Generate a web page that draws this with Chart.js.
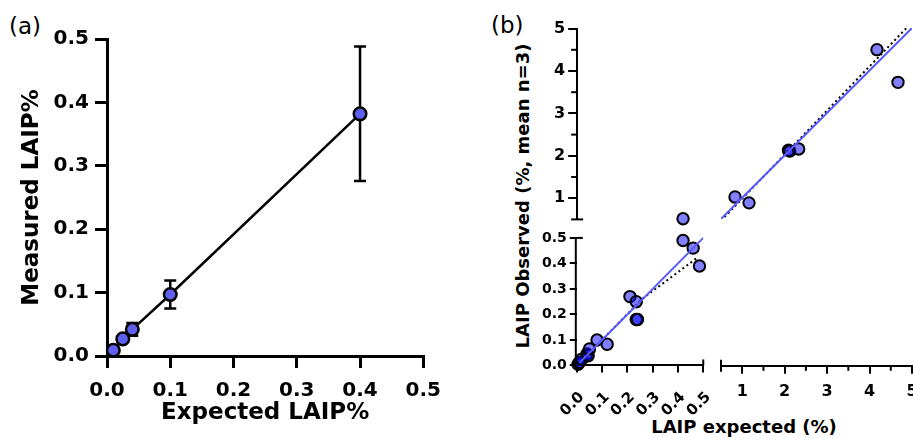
<!DOCTYPE html>
<html><head><meta charset="utf-8">
<script src="https://cdn.jsdelivr.net/npm/chart.js@4.4.1/dist/chart.umd.min.js"></script>
<style>
html,body{margin:0;padding:0;background:#fff;width:913px;height:438px;overflow:hidden;position:relative;font-family:"DejaVu Sans";}
canvas{position:absolute;}
.lbl{position:absolute;white-space:nowrap;color:#000;line-height:1;}
</style></head><body>
<div class="lbl" style="left:9px;top:15px;font-size:23px;line-height:23px;">(a)</div>
<div class="lbl" style="left:491px;top:14px;font-size:23px;line-height:23px;">(b)</div>
<div class="lbl" style="left:744px;top:418px;font-size:18px;line-height:18px;font-weight:bold;transform:translateX(-50%);">LAIP expected (%)</div>
<div class="lbl" style="left:523px;top:196px;font-size:18px;line-height:18px;font-weight:bold;transform:translate(-50%,-50%) rotate(-90deg);">LAIP Observed (%, mean n=3)</div>
<script>
// ---------- Panel (a) data ----------
const aExpected = [0.01, 0.025, 0.04, 0.1, 0.4];
const aMeasured = [0.009, 0.027, 0.042, 0.097, 0.382];
const aSD       = [0.002, 0.004, 0.010, 0.022, 0.106];
const aTicks    = [0, 0.1, 0.2, 0.3, 0.4, 0.5];

// ---------- Panel (b) data ----------
const bLowExpected = [0.005, 0.01, 0.02, 0.04, 0.045, 0.05, 0.08, 0.12, 0.21, 0.235, 0.235, 0.24, 0.42, 0.42, 0.46, 0.485];
const bLowObserved = [0.005, 0.012, 0.025, 0.045, 0.038, 0.065, 0.10, 0.083, 0.27, 0.25, 0.18, 0.18, 0.575, 0.49, 0.46, 0.39];
const bHighExpected = [0.83, 1.16, 2.09, 2.12, 2.33, 4.175, 4.67];
const bHighObserved = [1.02, 0.88, 2.12, 2.10, 2.15, 4.49, 3.72];
const bFitLowX  = [0.01, 0.5];
const bFitLowY  = [0.01, 0.5];
const bFitHighX = [0.5, 5];
const bFitHighY = [0.5, 5];
const bDotLowX  = [0.01, 0.26, 0.48];
const bDotLowY  = [0.01, 0.262, 0.425];
const bDotHighX = [0.5, 4.87];
const bDotHighY = [0.46, 5.0];
const bLowTicks = [0, 0.1, 0.2, 0.3, 0.4, 0.5];
const bHighTicks = [1, 2, 3, 4, 5];
const bHighMinorTicks = [1.5, 2.5, 3.5, 4.5];
const bBreak = 0.5;       // where both axes are broken
const bLowViewMax = 0.6;  // visible headroom above the lower y axis (for the 0.575 point)

Chart.defaults.font.family = '"DejaVu Sans"';
Chart.defaults.color = '#000';

const zip = (xs, ys) => xs.map((x, i) => ({x: x, y: ys[i]}));
const bFill = 'rgba(0,0,255,0.5)';
const bBlue = '#5a5aff';

function baseOpts() {
  return {responsive:false, animation:false, devicePixelRatio:1, events:[],
    plugins:{legend:{display:false}, tooltip:{enabled:false}}};
}
function setTicks(arr){ return s => { s.ticks = arr.map(v => ({value:v})); }; }

function marksPlugin(list){
  return {id:'marks', afterDraw(chart){
    const ctx = chart.ctx, a = chart.chartArea;
    ctx.save(); ctx.strokeStyle = '#000'; ctx.lineWidth = 2; ctx.lineCap = 'butt';
    list.forEach(m => {
      ctx.beginPath();
      if (m.axis === 'x') {
        const p = chart.scales.x.getPixelForValue(m.value);
        ctx.moveTo(p, a.bottom - m.inner); ctx.lineTo(p, a.bottom + m.outer);
      } else if (m.axis === 'y') {
        const p = chart.scales.y.getPixelForValue(m.value);
        ctx.moveTo(a.left - m.outer, p); ctx.lineTo(a.left + m.inner, p);
      } else if (m.axis === 'yline') {
        const y0 = chart.scales.y.getPixelForValue(m.from), y1 = chart.scales.y.getPixelForValue(m.to);
        ctx.moveTo(a.left - 1, y0 + 1); ctx.lineTo(a.left - 1, y1);
      }
      ctx.stroke();
    });
    ctx.restore();
  }};
}

const errorBarPlugin = {id:'errorBars', beforeDatasetsDraw(chart){
  const ctx = chart.ctx, x = chart.scales.x, y = chart.scales.y;
  ctx.save(); ctx.strokeStyle = '#000'; ctx.lineWidth = 2.5;
  aExpected.forEach((ev, i) => {
    const px = x.getPixelForValue(ev);
    const top = y.getPixelForValue(aMeasured[i] + aSD[i]);
    const bot = y.getPixelForValue(aMeasured[i] - aSD[i]);
    ctx.beginPath();
    ctx.moveTo(px, top); ctx.lineTo(px, bot);
    ctx.moveTo(px - 6, top); ctx.lineTo(px + 6, top);
    ctx.moveTo(px - 6, bot); ctx.lineTo(px + 6, bot);
    ctx.stroke();
  });
  ctx.restore();
}};

function mount(cfgFn, t, guess) {
  let W = Math.round(t.r - t.l + guess[0] + guess[2]);
  let H = Math.round(t.b - t.t + guess[1] + guess[3]);
  let chart = null, canvas = null;
  for (let pass = 0; pass < 4; pass++) {
    if (chart) { chart.destroy(); canvas.remove(); }
    canvas = document.createElement('canvas');
    canvas.width = W; canvas.height = H;
    canvas.style.width = W + 'px'; canvas.style.height = H + 'px';
    document.body.appendChild(canvas);
    chart = new Chart(canvas, cfgFn());
    const a = chart.chartArea;
    const dW = Math.round((t.r - t.l) - (a.right - a.left));
    const dH = Math.round((t.b - t.t) - (a.bottom - a.top));
    if (dW === 0 && dH === 0) break;
    W += dW; H += dH;
  }
  const a = chart.chartArea;
  canvas.style.left = Math.round(t.l - a.left) + 'px';
  canvas.style.top = Math.round(t.t - a.top) + 'px';
  return chart;
}

// ---------- Panel (a) ----------
mount(() => {
  const o = baseOpts();
  o.layout = {padding:{top:15, right:25, left:0, bottom:0}};
  const grid = {display:true, drawOnChartArea:false, drawTicks:true, tickLength:12, tickWidth:3, tickColor:'#000', color:'#000', lineWidth:3};
  const border = {display:true, color:'#000', width:3};
  o.scales = {
    x:{type:'linear', min:0, max:0.5, afterBuildTicks:setTicks(aTicks), afterFit:s => { s.height = 71; },
       ticks:{callback:v => Number(v).toFixed(1), font:{size:20, weight:'bold'}, color:'#000', padding:11, maxRotation:0, autoSkip:false},
       grid:grid, border:border,
       title:{display:true, text:'Expected LAIP%', font:{size:23, weight:'bold'}, color:'#000', padding:0}},
    y:{type:'linear', min:0, max:0.5, afterBuildTicks:setTicks(aTicks), afterFit:s => { s.width = 89; },
       ticks:{callback:v => Number(v).toFixed(1), font:{size:20, weight:'bold'}, color:'#000', padding:6, autoSkip:false},
       grid:grid, border:border,
       title:{display:true, text:'Measured LAIP%', font:{size:23, weight:'bold'}, color:'#000', padding:0}}
  };
  return {type:'scatter', data:{datasets:[{
    data:zip(aExpected, aMeasured), showLine:true, borderColor:'#000', borderWidth:2.5,
    pointRadius:6.3, pointBackgroundColor:'#6060f0', pointBorderColor:'#000', pointBorderWidth:2.5, clip:false
  }]}, options:o, plugins:[errorBarPlugin]};
}, {l:107.3, r:424, t:39.3, b:356.5}, [89, 15, 25, 71]);

// ---------- Panel (b) ----------
const gridB = len => ({display:true, drawOnChartArea:false, drawTicks:true, tickLength:len, tickWidth:2, tickColor:'#000', color:'#000', lineWidth:2});
const borderB = {display:true, color:'#000', width:2};

// upper y axis (0.5 - 5)
mount(() => {
  const o = baseOpts();
  o.layout = {padding:{top:12, right:2, left:5, bottom:12}};
  o.scales = {
    x:{type:'linear', min:0, max:1, display:false},
    y:{type:'linear', min:bBreak, max:5, afterBuildTicks:setTicks(bHighTicks),
       ticks:{callback:v => String(v), font:{size:16, weight:'bold'}, color:'#000', padding:3, autoSkip:false},
       grid:gridB(9), border:borderB}
  };
  const marks = bHighMinorTicks.map(v => ({axis:'y', value:v, inner:0, outer:6}));
  marks.push({axis:'y', value:bBreak, inner:6, outer:6});
  return {type:'scatter', data:{datasets:[]}, options:o, plugins:[marksPlugin(marks)]};
}, {l:576.7, r:700, t:28.3, b:219.3}, [35, 12, 2, 12]);

// right x axis (0.5 - 5)
mount(() => {
  const o = baseOpts();
  o.layout = {padding:{top:4, right:20, left:10, bottom:4}};
  o.scales = {
    x:{type:'linear', min:bBreak, max:5, afterBuildTicks:setTicks(bHighTicks),
       ticks:{callback:v => String(v), font:{size:16, weight:'bold'}, color:'#000', padding:8, maxRotation:0, autoSkip:false},
       grid:gridB(8), border:borderB},
    y:{type:'linear', min:0, max:1, display:false}
  };
  const marks = bHighMinorTicks.map(v => ({axis:'x', value:v, inner:0, outer:5}));
  marks.push({axis:'x', value:bBreak, inner:6, outer:6});
  return {type:'scatter', data:{datasets:[]}, options:o, plugins:[marksPlugin(marks)]};
}, {l:721, r:912.3, t:290, b:365.5}, [10, 4, 20, 40]);

// lower-left plot (0 - 0.5 both axes)
const lowPlotH = (365.5 - 238) * bLowViewMax / bBreak;
mount(() => {
  const o = baseOpts();
  o.layout = {padding:{top:10, right:20, left:5, bottom:5}};
  o.scales = {
    x:{type:'linear', min:0, max:bBreak, afterBuildTicks:setTicks(bLowTicks),
       ticks:{callback:v => Number(v).toFixed(1), font:{size:15, weight:'bold'}, color:'#000', padding:16, labelOffset:5, minRotation:45, maxRotation:45, autoSkip:false},
       grid:gridB(7), border:borderB},
    y:{type:'linear', min:0, max:bLowViewMax, afterBuildTicks:setTicks(bLowTicks),
       ticks:{callback:v => Number(v).toFixed(1), font:{size:14, weight:'bold'}, color:'#000', padding:3, autoSkip:false},
       grid:gridB(7), border:{display:false}}
  };
  return {type:'scatter', data:{datasets:[
    {data:zip(bFitLowX, bFitLowY), showLine:true, borderColor:bBlue, borderWidth:2, pointRadius:0, order:0},
    {data:zip(bDotLowX, bDotLowY), showLine:true, borderColor:'#000', borderDash:[2,3], borderWidth:2, pointRadius:0, order:0},
    {data:zip(bLowExpected, bLowObserved), showLine:false, pointRadius:5.7, pointBackgroundColor:bFill, pointBorderColor:'#000', pointBorderWidth:2, order:1, clip:false}
  ]}, options:o, plugins:[marksPlugin([
    {axis:'yline', from:0, to:bBreak},
    {axis:'x', value:bBreak, inner:6, outer:0},
    {axis:'y', value:bBreak, inner:6, outer:0}
  ])]};
}, {l:576.7, r:703.3, t:365.5 - lowPlotH, b:365.5}, [45, 10, 20, 55]);

// upper-right plot (0.5 - 5 both axes)
mount(() => {
  const o = baseOpts();
  o.layout = {padding:10};
  o.scales = {
    x:{type:'linear', min:bBreak, max:5, display:false},
    y:{type:'linear', min:bBreak, max:5, display:false}
  };
  return {type:'scatter', data:{datasets:[
    {data:zip(bFitHighX, bFitHighY), showLine:true, borderColor:bBlue, borderWidth:2, pointRadius:0, order:0},
    {data:zip(bDotHighX, bDotHighY), showLine:true, borderColor:'#000', borderDash:[2,3], borderWidth:2, pointRadius:0, order:0},
    {data:zip(bHighExpected, bHighObserved), showLine:false, pointRadius:5.7, pointBackgroundColor:bFill, pointBorderColor:'#000', pointBorderWidth:2, order:1, clip:false}
  ]}, options:o};
}, {l:721, r:912.3, t:28.3, b:219.3}, [10, 10, 10, 10]);
</script>
</body></html>
